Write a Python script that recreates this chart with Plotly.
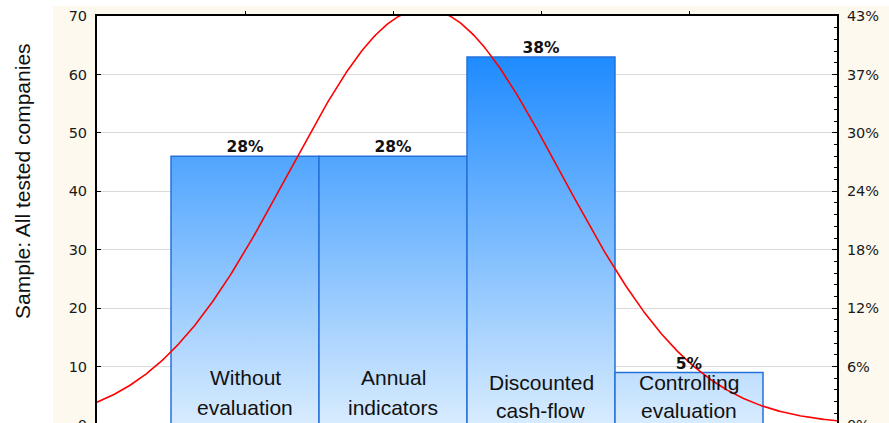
import numpy as np
import plotly.graph_objects as go

# Method categories (shown inside the bars) and the number of companies in each
categories = ["Without<br>evaluation", "Annual<br>indicators",
              "Discounted<br>cash-flow", "Controlling<br>evaluation"]
counts = [46, 46, 63, 9]
count_ticks = [0, 10, 20, 30, 40, 50, 60, 70]
y_title = "Sample: All tested companies"

n_total = sum(counts)
positions = np.arange(1, len(counts) + 1)
pct_text = [f"{round(100 * c / n_total)}%" for c in counts]
pct_ticks = [f"{round(100 * v / n_total)}%" for v in count_ticks]

# Normal curve fitted to the coded categories, scaled to expected counts
mean = np.sum(positions * np.array(counts)) / n_total
sd = np.sqrt(np.sum(np.array(counts) * (positions - mean) ** 2) / (n_total - 1))
xc = np.linspace(0, len(counts) + 1, 500)
yc = n_total * np.exp(-0.5 * ((xc - mean) / sd) ** 2) / (sd * np.sqrt(2 * np.pi))

TICK_FONT = dict(family="DejaVu Sans", size=14.5, color="#1a1a1a")
LABEL_FONT = dict(family="Liberation Sans, Arial", size=21, color="#111111")

fig = go.Figure()

# Histogram bars as filled outlines so that they share one vertical gradient
for pos, c in zip(positions, counts):
    fig.add_trace(go.Scatter(
        x=[pos - 0.5, pos + 0.5, pos + 0.5, pos - 0.5, pos - 0.5],
        y=[0, 0, c, c, 0],
        mode="lines", fill="toself",
        fillgradient=dict(type="vertical",
                          colorscale=[[0, "#d9ecfe"], [1, "#1e8bff"]],
                          start=0, stop=max(counts)),
        line=dict(color="#2672dc", width=1.5),
        hoverinfo="skip", showlegend=False,
    ))

# Fitted normal curve
fig.add_trace(go.Scatter(x=xc, y=yc, mode="lines",
                         line=dict(color="#ff0000", width=1.6),
                         hoverinfo="skip", showlegend=False))

# Percentage labels above each bar (on the percent axis)
fig.add_trace(go.Scatter(x=positions, y=counts, mode="text", text=pct_text,
                         textposition="top center", yaxis="y2",
                         textfont=dict(family="DejaVu Sans", size=15.5,
                                       color="#111111", weight="bold"),
                         hoverinfo="skip", showlegend=False))

# Category names written inside the bars, one annotation per line
line_levels = [(8.05, 3.05), (8.05, 3.05), (7.2, 2.4), (7.2, 2.4)]
for pos, name, levels in zip(positions, categories, line_levels):
    for part, lvl in zip(name.split("<br>"), levels):
        fig.add_annotation(x=pos, y=lvl, xref="x", yref="y", text=part,
                           showarrow=False, yanchor="middle",
                           xanchor="center", font=LABEL_FONT)

# Rotated y axis title
fig.add_annotation(x=-0.101, y=0.595, xref="paper", yref="paper",
                   text=y_title, showarrow=False, textangle=-90,
                   font=LABEL_FONT, xanchor="center", yanchor="middle")

fig.update_layout(
    width=889, height=520,
    margin=dict(l=97, r=52, t=16, b=95, autoexpand=False),
    paper_bgcolor="white", plot_bgcolor="white",
    showlegend=False,
    shapes=[
        dict(type="rect", xref="paper", yref="paper", x0=-0.0595, x1=1.1,
             y0=-0.5, y1=1.0244, fillcolor="#fdf9ee", line=dict(width=0),
             layer="below"),
        dict(type="rect", xref="paper", yref="paper", x0=0, x1=1,
             y0=0, y1=1, fillcolor="white", line=dict(width=0),
             layer="below"),
    ],
    xaxis=dict(range=[0, len(counts) + 1], tickvals=list(positions),
               showticklabels=False, ticks="outside", ticklen=3,
               tickcolor="black", showline=True, linecolor="black",
               linewidth=2, mirror="ticks", showgrid=False, zeroline=False,
               automargin=False),
    yaxis=dict(range=[0, 70], tickvals=count_ticks, ticks="inside",
               ticklen=4, tickcolor="black", showline=True,
               linecolor="black", linewidth=2, showgrid=True,
               gridcolor="#dadada", gridwidth=1, zeroline=False,
               tickfont=TICK_FONT, ticklabelstandoff=5, automargin=False),
    yaxis2=dict(range=[0, 70], overlaying="y", side="right",
                tickvals=count_ticks, ticktext=pct_ticks, ticks="inside",
                ticklen=5, tickcolor="black", showline=True,
                linecolor="black", linewidth=2, showgrid=False,
                zeroline=False, tickfont=TICK_FONT, ticklabelstandoff=5,
                automargin=False,
                minor=dict(dtick=2, ticks="inside", ticklen=3,
                           tickcolor="black", showgrid=False)),
)

fig.write_html("out.html", config={"displayModeBar": False},
               post_script="document.documentElement.style.overflow='hidden';"
                           "document.body.style.overflow='hidden';")
